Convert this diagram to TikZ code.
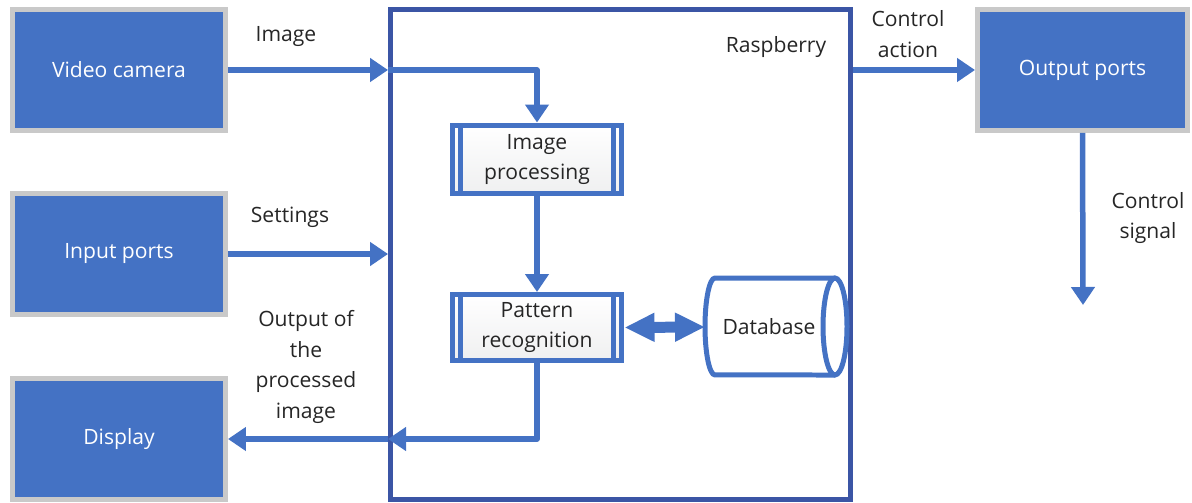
\documentclass[tikz,border=0pt]{standalone}
\usepackage{fontspec}
\setmainfont{Open Sans}
\usetikzlibrary{arrows.meta,calc}
\definecolor{blau}{HTML}{4472C4}
\definecolor{blaud}{HTML}{3B55A5}
\definecolor{rand}{HTML}{C9C9C9}
\definecolor{text}{HTML}{262626}

\begin{document}
\begin{tikzpicture}[x=0.02cm,y=-0.02cm,
    font=\fontsize{12}{17.5}\selectfont,
    unit/.style={fill=blau,draw=rand,line width=0.1cm,text=white,
      minimum width=4.26cm,minimum height=2.42cm},
    proc/.style={draw=blau,line width=0.1cm,top color=white,bottom color=blau!8!gray!12,
      text=text,align=center,minimum width=3.4cm},
    lbl/.style={text=text,align=center,inner sep=1pt},
    flow/.style={draw=blau,line width=0.11cm,line join=round,
      -{Triangle[length=0.36cm,width=0.46cm]}},
    bigflow/.style={draw=blau,line width=0.22cm,
      {Triangle[length=0.6cm,width=0.54cm]}-{Triangle[length=0.6cm,width=0.54cm]}}]
  \useasboundingbox (0,0) rectangle (1192,503);
  % outer units
  \node[unit] (cam) at (119,70) {Video camera};
  \node[unit] (inp) at (119,254) {Input ports};
  \node[unit] (disp) at (119,439) {Display};
  \node[unit,minimum width=4.2cm] (outp) at (1082.5,70) {Output ports};
  % the board
  \node[draw=blaud,line width=0.1cm,minimum width=9.2cm,minimum height=9.8cm] (rasp) at (620.5,254.5) {};
  \node[lbl] (lrasp) at (776,47) {Raspberry};
  \node[proc,minimum height=1.38cm] (imgproc) at (537,159.5) {Image\\processing};
  \node[proc,minimum height=1.32cm] (patrec) at (537,327.5) {Pattern\\recognition};
  \foreach \n in {imgproc,patrec} {
    \draw[blau,line width=0.1cm] ($(\n.north west)+(11,2.5)$) -- ($(\n.south west)+(11,-2.5)$);
    \draw[blau,line width=0.1cm] ($(\n.north east)+(-11,2.5)$) -- ($(\n.south east)+(-11,-2.5)$);
  }
  % database drum
  \draw[blau,line width=0.1cm,fill=white] (835,278) -- (715,278)
    arc[start angle=90,end angle=270,x radius=0.2cm,y radius=0.97cm] -- (835,375);
  \draw[blau,line width=0.1cm] (835,326.5) ellipse[x radius=0.24cm,y radius=0.97cm];
  \node[lbl] (db) at (769,327) {Database};
  \coordinate (dbin) at (705,327);
  \coordinate (sigend) at (1083,305);
  % signal flow
  \draw[flow] (cam.east) -- (cam.east -| rasp.west);
  \draw[flow] (cam.east -| rasp.west) -| (imgproc.north);
  \draw[flow] (imgproc) -- (patrec);
  \draw[flow] (patrec.south) |- (disp.east -| rasp.west);
  \draw[flow] (disp.east -| rasp.west) -- (disp.east);
  \draw[flow] (inp.east) -- (inp.east -| rasp.west);
  \draw[flow] (outp.west -| rasp.east) -- (outp.west);
  \draw[flow] (outp.south) -- (sigend);
  \draw[bigflow] (patrec.east) -- (dbin);
  % labels
  \node[lbl] (limg) at (286,37) {Image};
  \node[lbl] (lset) at (290,217) {Settings};
  \node[lbl] (lout) at (306,367) {Output of\\the\\processed\\image};
  \node[lbl] (lact) at (908,34) {Control\\action};
  \node[lbl] (lsig) at (1148,218) {Control\\signal};
\end{tikzpicture}
\end{document}
